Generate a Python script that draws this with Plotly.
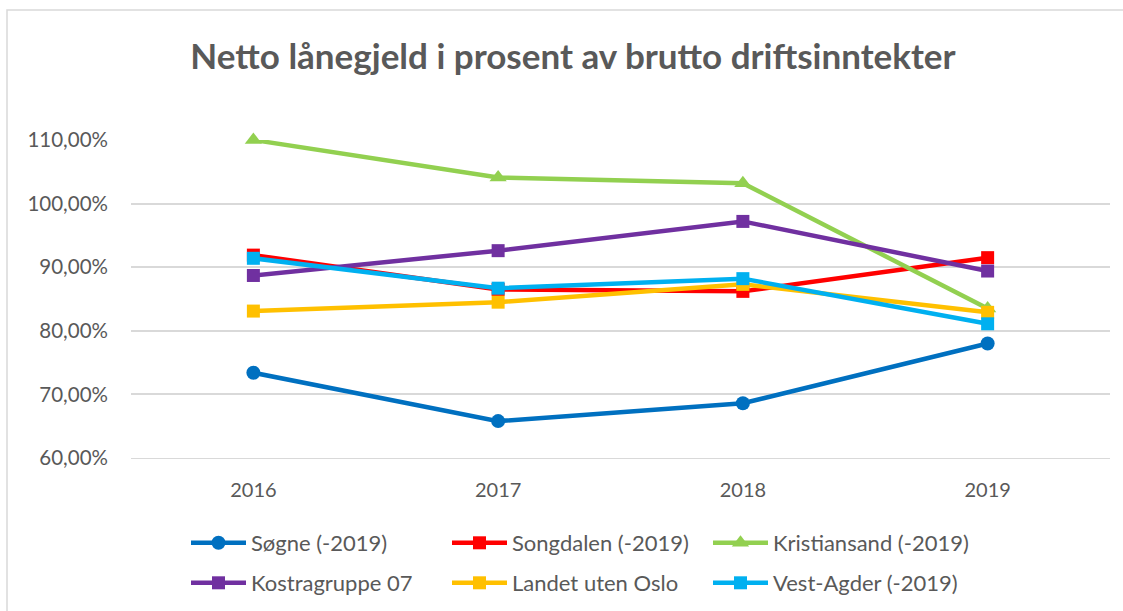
import plotly.graph_objects as go

years = ["2016", "2017", "2018", "2019"]
series_names = ["Søgne (-2019)", "Songdalen (-2019)", "Kristiansand (-2019)",
                "Kostragruppe 07", "Landet uten Oslo", "Vest-Agder (-2019)"]
soegne = [73.4, 65.8, 68.6, 78.0]
songdalen = [91.9, 86.5, 86.2, 91.5]
kristiansand = [110.0, 104.1, 103.2, 83.5]
kostra07 = [88.7, 92.6, 97.2, 89.4]
landet = [83.1, 84.5, 87.3, 82.9]
vestagder = [91.4, 86.7, 88.2, 81.1]
y_ticks = [60, 70, 80, 90, 100, 110]
y_tick_labels = [f"{v:.2f}".replace(".", ",") + "%" for v in y_ticks]

values = [soegne, songdalen, kristiansand, kostra07, landet, vestagder]
colors = ["#0070C0", "#FF0000", "#92D050", "#7030A0", "#FFC000", "#00B0F0"]
symbols = ["circle", "square", "triangle-up", "square", "square", "square"]
sizes = [14, 13, 15, 13, 13, 13]
legend_ids = ["legend", "legend", "legend", "legend2", "legend2", "legend2"]

fig = go.Figure()
for name, vals, c, s, sz, lg in zip(series_names, values, colors, symbols, sizes, legend_ids):
    fig.add_trace(go.Scatter(
        x=years, y=vals, name=name, mode="lines+markers",
        line=dict(color=c, width=4.5),
        marker=dict(symbol=s, size=sz, color=c, line=dict(width=0)),
        cliponaxis=False, legend=lg,
    ))

W, H = 1123, 611
L, R, T, B = 131, 13, 140, 153
pw, ph = W - L - R, H - T - B

def px_x(p):
    return (p - L) / pw

def px_y(p):
    return (H - B - p) / ph

font_family = "Lato, 'Open Sans', sans-serif"
legend_common = dict(
    orientation="h",
    x=px_x(186), xanchor="left", yanchor="middle",
    entrywidth=191, entrywidthmode="pixels",
    itemwidth=55,
    font=dict(size=22, color="#595959", family=font_family),
    bgcolor="rgba(0,0,0,0)",
)
fig.update_layout(
    width=W, height=H,
    margin=dict(l=L, r=R, t=T, b=B, autoexpand=False),
    paper_bgcolor="white", plot_bgcolor="white",
    font=dict(family=font_family, color="#595959", size=20),
    title=dict(
        text="<b>Netto lånegjeld i prosent av brutto driftsinntekter</b>",
        x=573 / W, xref="container", xanchor="center",
        y=1 - 57 / H, yref="container", yanchor="middle",
        font=dict(size=35, color="#595959", family=font_family),
    ),
    showlegend=True,
    legend=dict(y=px_y(543), **legend_common),
    legend2=dict(y=px_y(583), **legend_common),
    shapes=[dict(
        type="rect", xref="paper", yref="paper",
        x0=px_x(7), x1=px_x(1200), y0=px_y(700), y1=px_y(10),
        line=dict(color="#D9D9D9", width=1.5), layer="below",
    )],
)

fig.update_xaxes(
    type="category", range=[-0.5, 3.5],
    showgrid=False, showline=True, linecolor="#D9D9D9", linewidth=1,
    ticks="", ticklabelstandoff=14,
    tickfont=dict(size=20, color="#595959"),
)
fig.update_yaxes(
    range=[60, 110], tickvals=y_ticks, ticktext=y_tick_labels,
    showgrid=True, gridcolor="#D9D9D9", gridwidth=1.5,
    zeroline=False, showline=False,
    ticks="", ticklabelstandoff=22,
    tickfont=dict(size=20.5, color="#595959"),
)

fig.write_html("out.html", config={"displayModeBar": False},
               post_script="document.body.style.margin='0';")
